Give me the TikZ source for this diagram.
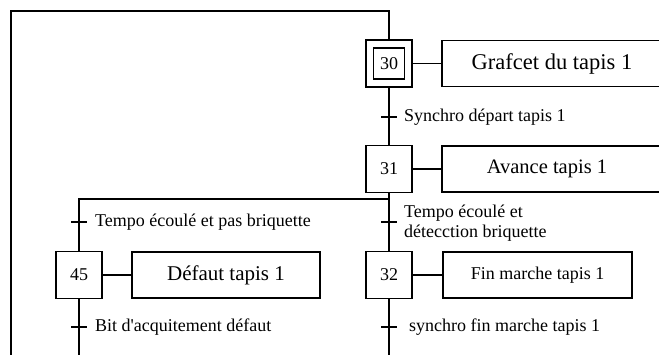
\documentclass[tikz,border=0pt]{standalone}
\usepackage{fontspec}
\setmainfont{Liberation Serif}
\usetikzlibrary{positioning,calc}
\tikzset{
  etape/.style={draw, line width=1.2pt, minimum width=46pt, minimum height=47pt, inner sep=0pt, font=\fontsize{18}{20}\selectfont},
  einit/.style={draw, line width=1.2pt, minimum width=31pt, minimum height=31pt, inner sep=0pt, font=\fontsize{18}{20}\selectfont},
  action/.style={draw, line width=1.2pt, minimum height=46pt, inner sep=0pt},
  trlab/.style={anchor=west, inner sep=0pt, font=\fontsize{18}{20.5}\selectfont, align=left},
  liaison/.style={line width=1.2pt},
  tick/.style={line width=1.2pt},
}

\begin{document}
\begin{tikzpicture}[x=1pt, y=-1pt]
  \useasboundingbox (0,0) rectangle (659,355);
  % etapes
  \node[etape] (e30) at (389,63.5) {};
  \node[einit] (e30i) at (e30) {30};
  \node[etape] (e31) at (389,169) {31};
  \node[etape] (e45) at (79,275) {45};
  \node[etape] (e32) at (389,275) {32};
  % actions
  \node[action, minimum width=220pt, font=\fontsize{22.5}{24}\selectfont] (a30) at (552,63.5) {Grafcet du tapis 1};
  \node[action, minimum width=220pt, font=\fontsize{20.5}{24}\selectfont] (a31) at (552,169) {Avance tapis 1\hspace*{10pt}};
  \node[action, minimum width=188pt, font=\fontsize{21}{24}\selectfont] (a45) at (226,275) {Défaut tapis 1};
  \node[action, minimum width=189pt, font=\fontsize{18}{20}\selectfont] (a32) at (537.5,275) {Fin marche tapis 1};
  \foreach \e/\a in {e30/a30, e31/a31, e45/a45, e32/a32}
    \draw[liaison] (\e.east) -- (\a.west);
  % transitions
  \coordinate (t1) at (389,117);
  \coordinate (t2) at (79,222);
  \coordinate (t3) at (389,222);
  \coordinate (t4) at (79,327);
  \coordinate (t5) at (389,327);
  \foreach \t in {t1,t2,t3,t4,t5}
    \draw[tick] ([xshift=-8pt]\t) -- ([xshift=8pt]\t);
  \node[trlab] (r1) at (404,117) {Synchro départ tapis 1};
  \node[trlab] (r2) at (95,222) {Tempo écoulé et pas briquette};
  \node[trlab] (r3) at (404,223) {Tempo écoulé et\\détecction briquette};
  \node[trlab] (r4) at (95,327) {Bit d\textquotesingle acquitement défaut};
  \node[trlab] (r5) at (409,327) {synchro fin marche tapis 1};
  % liaisons
  \coordinate (haut) at (389,11);
  \coordinate (coin) at (11,11);
  \coordinate (bas) at (11,360);
  \coordinate (div) at (389,199);
  \coordinate (divg) at (79,199);
  \coordinate (fin45) at (79,360);
  \coordinate (fin32) at (389,360);
  \draw[liaison] (e30.north) -- (haut) -- (coin) -- (bas);
  \draw[liaison] (e30.south) -- (t1) -- (e31.north);
  \draw[liaison] (e31.south) -- (div) -- (t3) -- (e32.north);
  \draw[liaison] (div) -- (divg) -- (t2) -- (e45.north);
  \draw[liaison] (e45.south) -- (t4) -- (fin45);
  \draw[liaison] (e32.south) -- (t5) -- (fin32);
\end{tikzpicture}
\end{document}
